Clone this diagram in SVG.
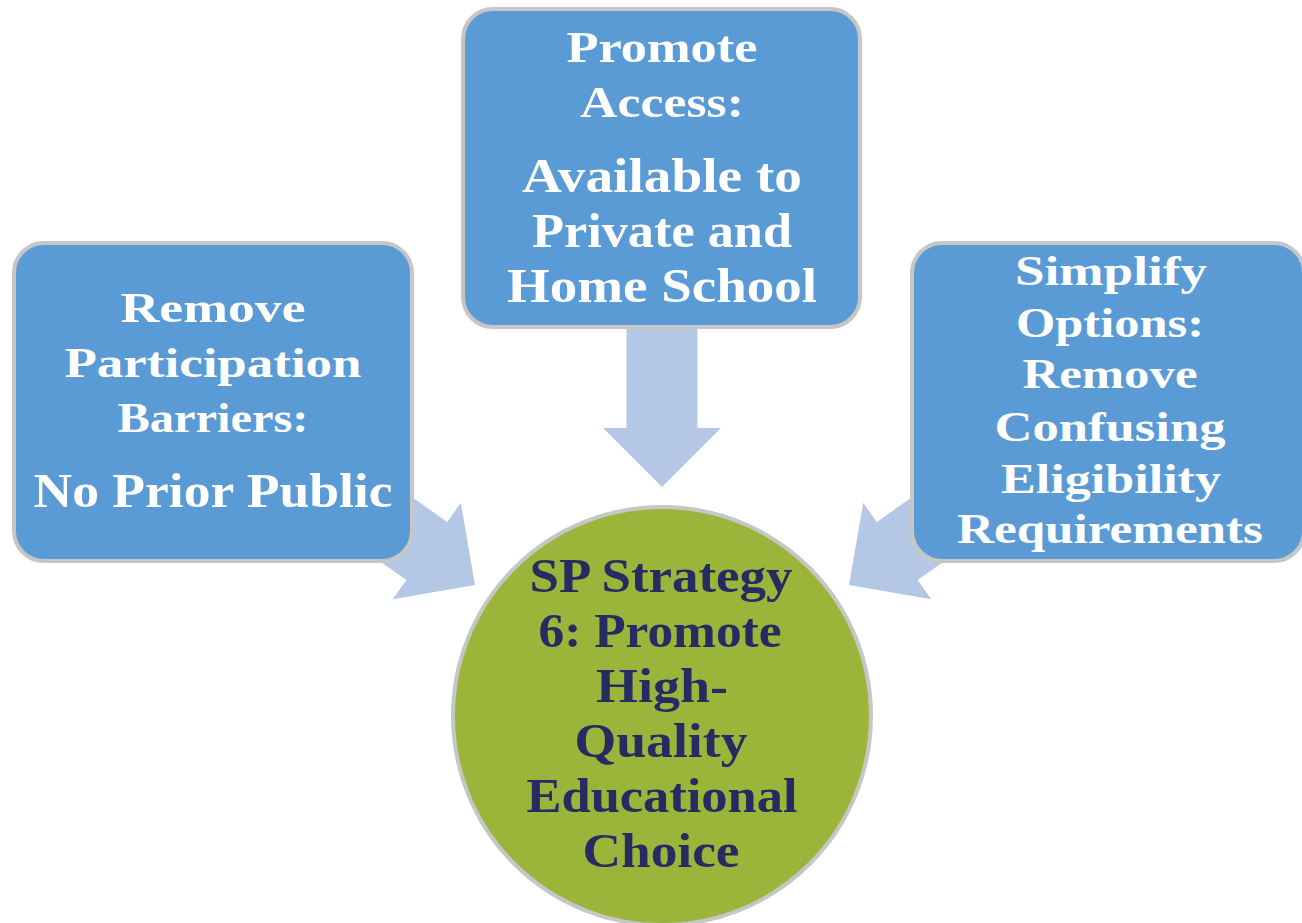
<svg xmlns="http://www.w3.org/2000/svg" width="1302" height="923" viewBox="0 0 1302 923">
<defs>
<style>
.box{fill:#5b9bd5;stroke:#c6c6c6;stroke-width:4}
.arrow{fill:#b4c8e6}
.wt{fill:#ffffff;font-family:"Liberation Serif","DejaVu Serif",serif;font-weight:bold;text-anchor:middle}
.nt{fill:#262c61;font-family:"Liberation Serif","DejaVu Serif",serif;font-weight:bold;text-anchor:middle;font-size:48px}
</style>
<polygon id="arr" points="0,0 -59,-59 -59,-35.5 -200,-35.5 -200,35.5 -59,35.5 -59,59"/>
</defs>
<rect width="1302" height="923" fill="#ffffff"/>
<g id="connectors">
<use href="#arr" class="arrow" transform="translate(662,487) rotate(90)"/>
<use href="#arr" class="arrow" transform="translate(475,585) rotate(35.2)"/>
<use href="#arr" class="arrow" transform="translate(849,585) rotate(144.8)"/>
</g>
<g id="node-left">
<rect class="box" x="14" y="243" width="398" height="318" rx="30"/>
<text class="wt" font-size="43" x="213" y="322" textLength="185" lengthAdjust="spacingAndGlyphs">Remove</text>
<text class="wt" font-size="43" x="213" y="377" textLength="297" lengthAdjust="spacingAndGlyphs">Participation</text>
<text class="wt" font-size="43" x="213" y="432" textLength="191" lengthAdjust="spacingAndGlyphs">Barriers:</text>
<text class="wt" font-size="48" x="213" y="507" textLength="359" lengthAdjust="spacingAndGlyphs">No Prior Public</text>
</g>
<g id="node-top">
<rect class="box" x="463" y="9" width="397" height="318" rx="30"/>
<text class="wt" font-size="45" x="662" y="62" textLength="191" lengthAdjust="spacingAndGlyphs">Promote</text>
<text class="wt" font-size="45" x="662" y="117" textLength="164" lengthAdjust="spacingAndGlyphs">Access:</text>
<text class="wt" font-size="48" x="662" y="192" textLength="280" lengthAdjust="spacingAndGlyphs">Available to</text>
<text class="wt" font-size="48" x="662" y="247" textLength="260" lengthAdjust="spacingAndGlyphs">Private and</text>
<text class="wt" font-size="48" x="662" y="302" textLength="310" lengthAdjust="spacingAndGlyphs">Home School</text>
</g>
<g id="node-right">
<rect class="box" x="912" y="243" width="392" height="318" rx="30"/>
<text class="wt" font-size="42" x="1111" y="285" textLength="192" lengthAdjust="spacingAndGlyphs">Simplify</text>
<text class="wt" font-size="42" x="1110" y="337" textLength="188" lengthAdjust="spacingAndGlyphs">Options:</text>
<text class="wt" font-size="42" x="1110" y="388" textLength="175" lengthAdjust="spacingAndGlyphs">Remove</text>
<text class="wt" font-size="42" x="1110" y="441" textLength="231" lengthAdjust="spacingAndGlyphs">Confusing</text>
<text class="wt" font-size="42" x="1111" y="493" textLength="220" lengthAdjust="spacingAndGlyphs">Eligibility</text>
<text class="wt" font-size="42" x="1110" y="543" textLength="306" lengthAdjust="spacingAndGlyphs">Requirements</text>
</g>
<g id="node-center">
<circle cx="662" cy="716" r="209" fill="#9bb53b" stroke="#c6c6c6" stroke-width="4"/>
<text class="nt" x="661" y="592" textLength="263" lengthAdjust="spacingAndGlyphs">SP Strategy</text>
<text class="nt" x="660" y="647" textLength="243" lengthAdjust="spacingAndGlyphs">6: Promote</text>
<text class="nt" x="662" y="702" textLength="132" lengthAdjust="spacingAndGlyphs">High-</text>
<text class="nt" x="661" y="757" textLength="173" lengthAdjust="spacingAndGlyphs">Quality</text>
<text class="nt" x="662" y="812" textLength="271" lengthAdjust="spacingAndGlyphs">Educational</text>
<text class="nt" x="661" y="867" textLength="157" lengthAdjust="spacingAndGlyphs">Choice</text>
</g>
</svg>
